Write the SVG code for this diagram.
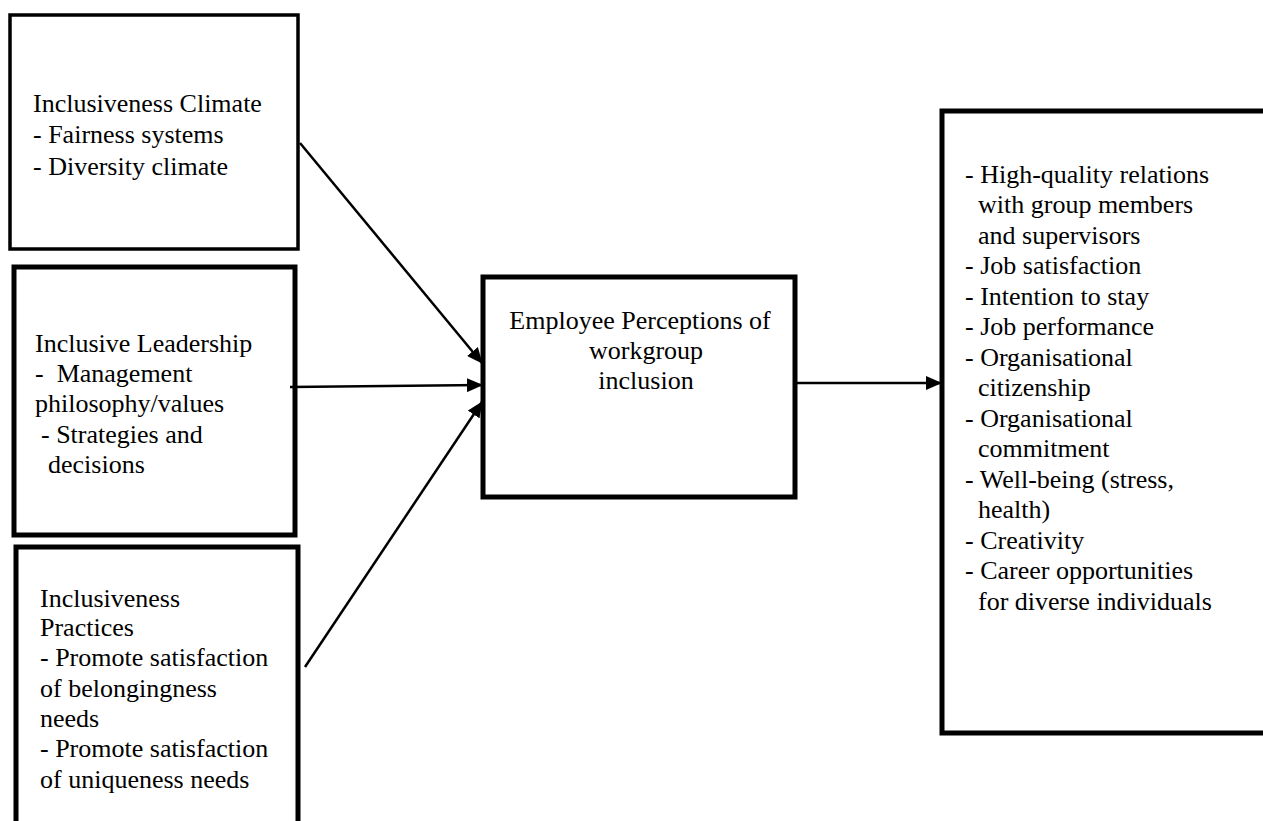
<svg xmlns="http://www.w3.org/2000/svg" width="1263" height="821" viewBox="0 0 1263 821">
  <style>
    .box { fill: #ffffff; stroke: #000000; stroke-width: 5; }
    .box-thin { fill: #ffffff; stroke: #000000; stroke-width: 3.5; }
    .label { font-family: "Liberation Serif", "Times New Roman", serif; font-size: 26px; fill: #000000; }
    .mid { text-anchor: middle; }
    .edge { stroke: #000000; stroke-width: 2.5; fill: none; marker-end: url(#arrow); }
  </style>
  <defs>
    <marker id="arrow" markerUnits="userSpaceOnUse" markerWidth="16" markerHeight="14" refX="15" refY="7" orient="auto">
      <path d="M0,0 L16,7 L0,14 z" fill="#000000"/>
    </marker>
  </defs>
  <rect width="1263" height="821" fill="#ffffff"/>

  <!-- antecedent: climate -->
  <g id="climate">
    <rect class="box-thin" x="10" y="15" width="288" height="234"/>
    <text class="label" x="33" y="112">Inclusiveness Climate</text>
    <text class="label" x="33" y="143">- Fairness systems</text>
    <text class="label" x="33" y="175">- Diversity climate</text>
  </g>

  <!-- antecedent: leadership -->
  <g id="leadership">
    <rect class="box" x="14" y="267" width="281" height="268"/>
    <text class="label" x="35" y="352">Inclusive Leadership</text>
    <text class="label" x="35" y="382" xml:space="preserve">-  Management</text>
    <text class="label" x="35" y="412">philosophy/values</text>
    <text class="label" x="41" y="443">- Strategies and</text>
    <text class="label" x="48" y="473">decisions</text>
  </g>

  <!-- antecedent: practices -->
  <g id="practices">
    <rect class="box" x="16" y="547" width="282" height="300"/>
    <text class="label" x="40" y="607">Inclusiveness</text>
    <text class="label" x="40" y="636">Practices</text>
    <text class="label" x="40" y="666">- Promote satisfaction</text>
    <text class="label" x="40" y="697">of belongingness</text>
    <text class="label" x="40" y="727">needs</text>
    <text class="label" x="40" y="757">- Promote satisfaction</text>
    <text class="label" x="40" y="788">of uniqueness needs</text>
  </g>

  <!-- central construct -->
  <g id="inclusion">
    <rect class="box" x="483" y="277" width="312" height="220"/>
    <text class="label mid" x="640" y="329">Employee Perceptions of</text>
    <text class="label mid" x="646" y="359">workgroup</text>
    <text class="label mid" x="646" y="389">inclusion</text>
  </g>

  <!-- outcomes -->
  <g id="outcomes">
    <rect class="box" x="942" y="111" width="400" height="622"/>
    <text class="label" x="965" y="183">- High-quality relations</text>
    <text class="label" x="978" y="213">with group members</text>
    <text class="label" x="978" y="244">and supervisors</text>
    <text class="label" x="965" y="274">- Job satisfaction</text>
    <text class="label" x="965" y="305">- Intention to stay</text>
    <text class="label" x="965" y="335">- Job performance</text>
    <text class="label" x="965" y="366">- Organisational</text>
    <text class="label" x="978" y="396">citizenship</text>
    <text class="label" x="965" y="427">- Organisational</text>
    <text class="label" x="978" y="457">commitment</text>
    <text class="label" x="965" y="488">- Well-being (stress,</text>
    <text class="label" x="978" y="518">health)</text>
    <text class="label" x="965" y="549">- Creativity</text>
    <text class="label" x="965" y="579">- Career opportunities</text>
    <text class="label" x="978" y="610">for diverse individuals</text>
  </g>

  <!-- connectors -->
  <g id="connectors">
    <line class="edge" x1="300" y1="143" x2="482" y2="363"/>
    <line class="edge" x1="290" y1="387" x2="482" y2="385"/>
    <line class="edge" x1="305" y1="667" x2="482" y2="402"/>
    <line class="edge" x1="795" y1="383" x2="941" y2="383"/>
  </g>
</svg>
